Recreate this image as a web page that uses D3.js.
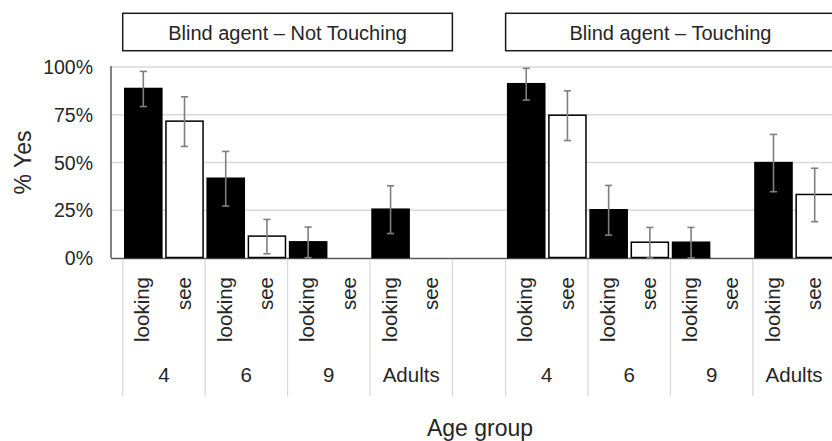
<!DOCTYPE html>
<html>
<head>
<meta charset="utf-8">
<script src="https://cdn.jsdelivr.net/npm/d3@7"></script>
<style>
  body { margin: 0; background: #fff; }
  svg { font-family: "Liberation Sans", Arial, sans-serif; }
  .grid { stroke: #d9d9d9; stroke-width: 1.3; }
  .axisline { stroke: #595959; stroke-width: 1.5; }
  .sep { stroke: #d9d9d9; stroke-width: 1.3; }
  .ticklabel { font-size: 19.5px; fill: #262626; }
  .catlabel { font-size: 20.5px; fill: #262626; }
  .axistitle { font-size: 23px; fill: #262626; }
  .header { fill: #fff; stroke: #1a1a1a; stroke-width: 1.5; }
  .headertext { font-size: 20px; fill: #262626; }
  .bar { stroke: #000; stroke-width: 1.5; }
  .err { stroke: #7f7f7f; stroke-width: 1.6; }
</style>
</head>
<body>
<svg id="chart" width="832" height="441"></svg>
<script>
// chart values
const panels = ["Blind agent \u2013 Not Touching", "Blind agent \u2013 Touching"];
const groups = ["4", "6", "9", "Adults"];
const conditions = ["looking", "see"];
const notTouchingValues = [88.5, 71.4, 41.5, 11.2, 8.2, 0, 25.3, 0];
const notTouchingErrors = [9.2, 13, 14.3, 9, 8, 0, 12.5, 0];
const touchingValues = [91, 74.5, 25, 8, 8, 0, 49.7, 33];
const touchingErrors = [8.3, 13, 13, 8, 8, 0, 15, 14];
const yTicks = [0, 25, 50, 75, 100];

const panelValues = [notTouchingValues, touchingValues];
const panelErrors = [notTouchingErrors, touchingErrors];

const svg = d3.select("#chart");
svg.append("rect").attr("width", 832).attr("height", 441).attr("fill", "#fff");

const yScale = d3.scaleLinear().domain([0, 100]).range([258, 67]);
const panelScale = d3.scaleBand().domain(panels).range([122.7, 835.3]).paddingInner(0.139);
const groupScale = d3.scaleBand().domain(groups).range([0, panelScale.bandwidth()]);
const condScale = d3.scaleBand().domain(conditions).range([0, groupScale.bandwidth()])
    .paddingInner(0.1).paddingOuter(0.05);

const plotLeft = 111, plotRight = 832;

// gridlines
svg.selectAll(".grid").data(yTicks.filter(d => d > 0)).enter()
    .append("line").attr("class", "grid")
    .attr("x1", plotLeft).attr("x2", plotRight)
    .attr("y1", d => yScale(d)).attr("y2", d => yScale(d));

// y tick labels
svg.selectAll(".ticklabel").data(yTicks).enter()
    .append("text").attr("class", "ticklabel")
    .attr("x", 93).attr("y", d => yScale(d)).attr("dy", "0.36em")
    .attr("text-anchor", "end")
    .text(d => d + "%");

svg.append("text").attr("class", "axistitle")
    .attr("transform", "translate(31," + yScale(50) + ") rotate(-90)")
    .attr("text-anchor", "middle")
    .text("% Yes");

// axis lines (under the bars, so zero bars show as black strokes)
svg.append("line").attr("class", "axisline")
    .attr("x1", plotLeft).attr("x2", plotLeft)
    .attr("y1", yScale(100) - 1).attr("y2", yScale(0));
svg.append("line").attr("class", "axisline")
    .attr("x1", plotLeft).attr("x2", plotRight)
    .attr("y1", yScale(0) + 0.5).attr("y2", yScale(0) + 0.5);

panels.forEach(function(p, pi) {
    let x0 = panelScale(p);
    let g = svg.append("g").attr("transform", "translate(" + x0 + ",0)");

    // header box
    g.append("rect").attr("class", "header")
        .attr("x", 0).attr("y", 13.3)
        .attr("width", panelScale.bandwidth()).attr("height", 37.4);
    g.append("text").attr("class", "headertext")
        .attr("x", panelScale.bandwidth() / 2).attr("y", 39.5)
        .attr("text-anchor", "middle").text(p);

    // group separators below axis
    let bounds = groups.map(d => groupScale(d)).concat([panelScale.bandwidth()]);
    g.selectAll(".sep").data(bounds).enter()
        .append("line").attr("class", "sep")
        .attr("x1", d => d).attr("x2", d => d)
        .attr("y1", yScale(0) + 1.3).attr("y2", 396);

    let rows = [];
    groups.forEach(function(gr, gi) {
        conditions.forEach(function(c, ci) {
            let k = gi * conditions.length + ci;
            rows.push({group: gr, cond: c, value: panelValues[pi][k], err: panelErrors[pi][k]});
        });
    });
    let bx = d => groupScale(d.group) + condScale(d.cond);

    g.selectAll(".bar").data(rows).enter()
        .append("rect").attr("class", "bar")
        .attr("x", bx).attr("width", condScale.bandwidth())
        .attr("y", d => yScale(d.value) - 0.5)
        .attr("height", d => yScale(0) - yScale(d.value))
        .attr("fill", d => d.cond === "looking" ? "#000" : "#fff");

    let withErr = rows.filter(d => d.err > 0);
    let cx = d => bx(d) + condScale.bandwidth() / 2;
    g.selectAll(".errv").data(withErr).enter()
        .append("line").attr("class", "err")
        .attr("x1", cx).attr("x2", cx)
        .attr("y1", d => yScale(d.value + d.err))
        .attr("y2", d => yScale(Math.max(0, d.value - d.err)));
    g.selectAll(".errtop").data(withErr).enter()
        .append("line").attr("class", "err")
        .attr("x1", d => cx(d) - 3.6).attr("x2", d => cx(d) + 3.6)
        .attr("y1", d => yScale(d.value + d.err)).attr("y2", d => yScale(d.value + d.err));
    g.selectAll(".errbot").data(withErr).enter()
        .append("line").attr("class", "err")
        .attr("x1", d => cx(d) - 3.6).attr("x2", d => cx(d) + 3.6)
        .attr("y1", d => yScale(Math.max(0, d.value - d.err)))
        .attr("y2", d => yScale(Math.max(0, d.value - d.err)));

    // condition labels (rotated)
    g.selectAll(".condlabel").data(rows).enter()
        .append("text").attr("class", "catlabel")
        .attr("transform", d => "translate(" + (groupScale(d.group) + condScale.step() * (conditions.indexOf(d.cond) + 0.5)) + ",277) rotate(-90)")
        .attr("dy", "0.3em")
        .attr("text-anchor", "end")
        .text(d => d.cond);

    // group labels
    g.selectAll(".grouplabel").data(groups).enter()
        .append("text").attr("class", "catlabel")
        .attr("x", d => groupScale(d) + groupScale.bandwidth() / 2)
        .attr("y", 382).attr("text-anchor", "middle")
        .text(d => d);
});

svg.append("text").attr("class", "axistitle")
    .attr("x", 480).attr("y", 435.5).attr("text-anchor", "middle")
    .text("Age group");
</script>
</body>
</html>
